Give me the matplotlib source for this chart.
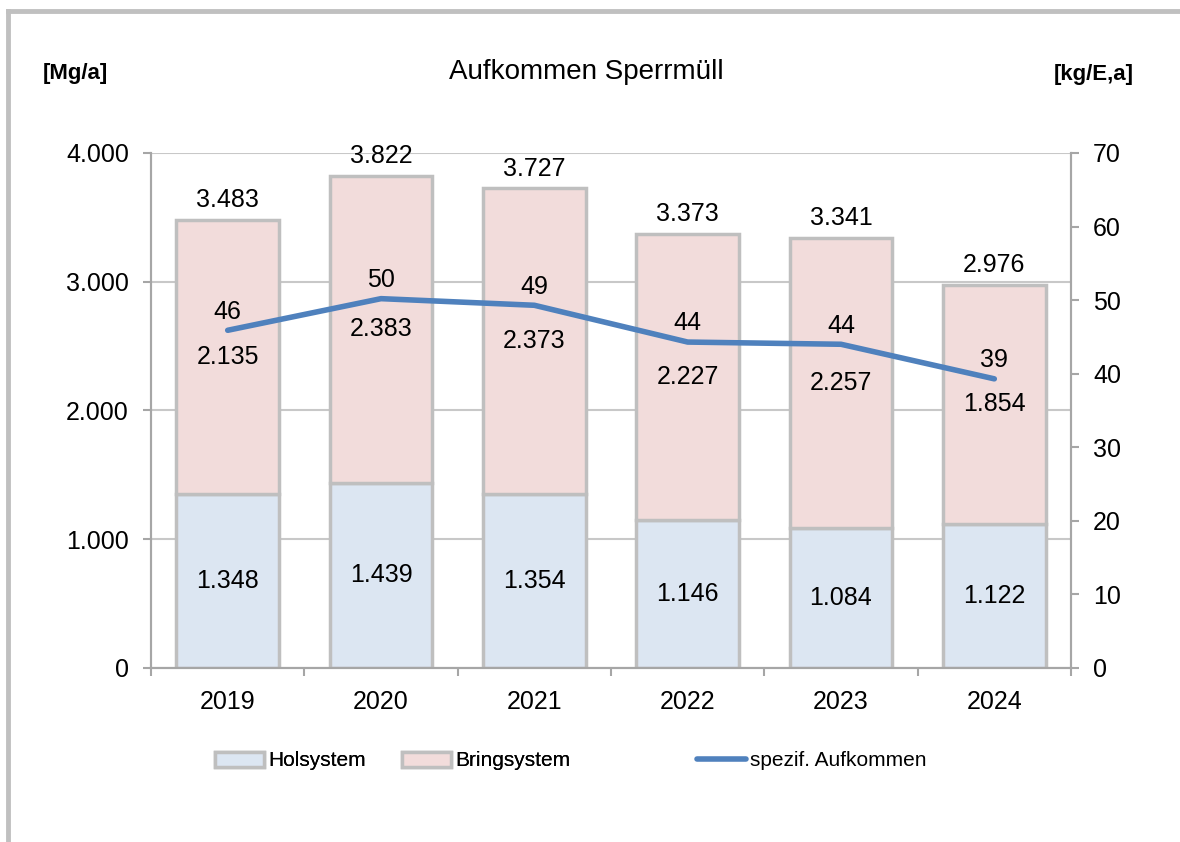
import matplotlib.pyplot as plt
from matplotlib.lines import Line2D
from matplotlib.patches import Patch
from matplotlib.ticker import FuncFormatter

# data
years = ['2019', '2020', '2021', '2022', '2023', '2024']
holsystem = [1348, 1439, 1354, 1146, 1084, 1122]
bringsystem = [2135, 2383, 2373, 2227, 2257, 1854]
totals = [3483, 3822, 3727, 3373, 3341, 2976]
spezif = [45.9, 50.2, 49.3, 44.3, 44.0, 39.3]
spezif_labels = ['46', '50', '49', '44', '44', '39']

plt.rcParams['font.family'] = ['Liberation Sans', 'DejaVu Sans']

c_hol = '#DCE6F2'
c_bring = '#F2DCDB'
c_edge = '#BFBFBF'
c_line = '#4F81BD'
c_axis = '#A6A6A6'


def de_fmt(v, pos=None):
    return f'{int(round(v)):,}'.replace(',', '.')


def main():
    fig = plt.figure(figsize=(11.8, 8.42), dpi=100)
    ax = fig.add_axes([0.128, 0.2067, 0.7796, 0.6116])
    ax2 = ax.twinx()

    x = list(range(len(years)))
    w = 0.67
    ax.bar(x, holsystem, w, color=c_hol, edgecolor=c_edge, linewidth=2.5, zorder=2)
    ax.bar(x, bringsystem, w, bottom=holsystem, color=c_bring, edgecolor=c_edge,
           linewidth=2.5, zorder=2)

    for i in x:
        ax.text(i, holsystem[i] / 2, de_fmt(holsystem[i]), ha='center', va='center',
                fontsize=18, zorder=4)
        ax.text(i, holsystem[i] + bringsystem[i] / 2, de_fmt(bringsystem[i]),
                ha='center', va='center', fontsize=18, zorder=4)
        ax.annotate(de_fmt(totals[i]), (i, totals[i]), xytext=(0, 14),
                    textcoords='offset points', ha='center', va='center', fontsize=18)

    ax2.plot(x, spezif, color=c_line, lw=4, solid_capstyle='round', zorder=3)
    for i in x:
        ax2.annotate(spezif_labels[i], (i, spezif[i]), xytext=(0, 13.5),
                     textcoords='offset points', ha='center', va='center', fontsize=18)

    ax.set_xlim(-0.5, len(years) - 0.5)
    ax.set_ylim(0, 4000)
    ax2.set_ylim(0, 70)
    ax.set_yticks([0, 1000, 2000, 3000, 4000])
    ax2.set_yticks(range(0, 71, 10))
    ax.yaxis.set_major_formatter(FuncFormatter(de_fmt))

    ax.set_xticks(x)
    ax.set_xticklabels(years)
    ax.set_xticks([i - 0.5 for i in range(len(years) + 1)], minor=True)
    ax.tick_params(axis='x', which='major', length=0, pad=16, labelsize=18)
    ax.tick_params(axis='x', which='minor', length=6, width=1.5, color=c_axis)
    ax.tick_params(axis='y', length=6, width=1.5, color=c_axis, pad=10, labelsize=18)
    ax2.tick_params(axis='y', length=6, width=1.5, color=c_axis, pad=10, labelsize=18)

    ax.grid(axis='y', color='#C8C8C8', lw=1.5, zorder=0)
    ax.set_axisbelow(True)
    for a in (ax, ax2):
        a.spines['top'].set_visible(False)
        for s in ('left', 'right', 'bottom'):
            a.spines[s].set_color(c_axis)
            a.spines[s].set_linewidth(1.5)

    fig.text(0.4966, 0.9145, 'Aufkommen Sperrmüll', ha='center', va='center', fontsize=20)
    fig.text(0.064, 0.913, '[Mg/a]', ha='center', va='center', fontsize=16, fontweight='bold')
    fig.text(0.927, 0.911, '[kg/E,a]', ha='center', va='center', fontsize=16, fontweight='bold')

    # legends
    leg_kw = dict(frameon=False, fontsize=15, handlelength=2.35, handleheight=0.72,
                  handletextpad=0.2, borderpad=0, borderaxespad=0, loc='center left')
    h_bars = [Patch(facecolor=c_hol, edgecolor=c_edge, lw=2.5, label='Holsystem'),
              Patch(facecolor=c_bring, edgecolor=c_edge, lw=2.5, label='Bringsystem')]
    leg1 = fig.legend(handles=h_bars, bbox_to_anchor=(0.1822, 0.0962), ncol=2,
                      columnspacing=1.75, **leg_kw)
    h_line = [Line2D([0], [0], color=c_line, lw=4, solid_capstyle='round',
                     label='spezif. Aufkommen')]
    fig.legend(handles=h_line, bbox_to_anchor=(0.5907, 0.0962), **leg_kw)
    fig.add_artist(leg1)

    # outer frame (top and left edges visible)
    fig.add_artist(Line2D([0.0064, 0.0064], [0, 0.9875], transform=fig.transFigure,
                          color='#C0C0C0', lw=3.5))
    fig.add_artist(Line2D([0.0064, 1.0], [0.9875, 0.9875], transform=fig.transFigure,
                          color='#C0C0C0', lw=3.5))

    fig.savefig('out.png', dpi=100)


if __name__ == "__main__":
    main()
